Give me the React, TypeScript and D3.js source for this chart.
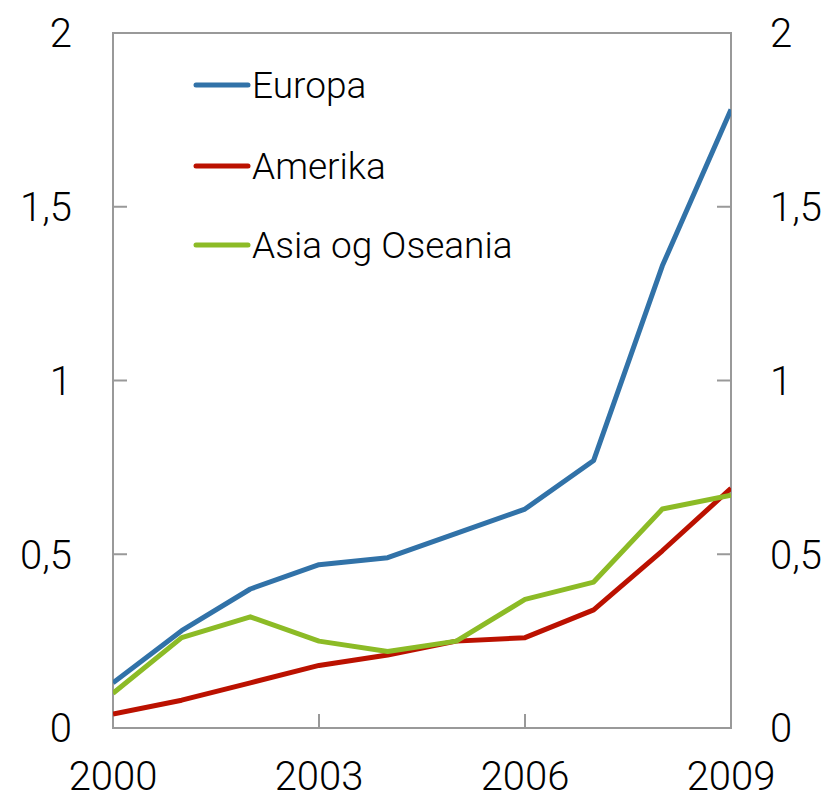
import { useEffect, useRef } from 'react';
import * as d3 from 'd3';

const years = [2000, 2001, 2002, 2003, 2004, 2005, 2006, 2007, 2008, 2009];
const europa = [0.13, 0.28, 0.40, 0.47, 0.49, 0.56, 0.63, 0.77, 1.33, 1.78];
const amerika = [0.04, 0.08, 0.13, 0.18, 0.21, 0.25, 0.26, 0.34, 0.51, 0.69];
const asia = [0.10, 0.26, 0.32, 0.25, 0.22, 0.25, 0.37, 0.42, 0.63, 0.67];
const yTicks = [0, 0.5, 1, 1.5, 2];
const xTicks = [2000, 2003, 2006, 2009];

const series = [
  { name: 'Europa', values: europa, color: '#3172a8' },
  { name: 'Amerika', values: amerika, color: '#bb1100' },
  { name: 'Asia og Oseania', values: asia, color: '#8cbb26' },
];

export default function App() {
  const ref = useRef<SVGSVGElement>(null);

  useEffect(() => {
    const svg = d3.select(ref.current);
    svg.selectAll('*').remove();

    const margin = { top: 33, right: 101, bottom: 73, left: 113 };
    const W = 832, H = 801;
    const width = W - margin.left - margin.right;
    const height = H - margin.top - margin.bottom;
    const font = 'Roboto, "Liberation Sans", Arial, sans-serif';
    const axisColor = '#999999';

    const x = d3.scaleLinear().domain([2000, 2009]).range([0, width]);
    const y = d3.scaleLinear().domain([0, 2]).range([height, 0]);
    const fmt = (v: number) => String(v).replace('.', ',');

    const g = svg.append('g').attr('transform', `translate(${margin.left},${margin.top})`);

    // frame
    g.append('rect')
      .attr('x', 0).attr('y', 0).attr('width', width).attr('height', height)
      .attr('fill', 'none').attr('stroke', axisColor).attr('stroke-width', 2);

    // inner tick marks
    const tickLen = 14;
    yTicks.forEach(t => {
      g.append('line').attr('x1', 0).attr('x2', tickLen).attr('y1', y(t)).attr('y2', y(t))
        .attr('stroke', axisColor).attr('stroke-width', 2);
      g.append('line').attr('x1', width - tickLen).attr('x2', width).attr('y1', y(t)).attr('y2', y(t))
        .attr('stroke', axisColor).attr('stroke-width', 2);
    });
    xTicks.forEach(t => {
      g.append('line').attr('x1', x(t)).attr('x2', x(t)).attr('y1', height).attr('y2', height - tickLen)
        .attr('stroke', axisColor).attr('stroke-width', 2);
    });

    // tick labels
    yTicks.forEach(t => {
      g.append('text').attr('x', -41).attr('y', y(t)).attr('dy', '0.36em')
        .attr('text-anchor', 'end').attr('font-family', font).attr('font-size', 40)
        .attr('font-weight', 300).attr('fill', '#000').text(fmt(t));
      g.append('text').attr('x', width + 39).attr('y', y(t)).attr('dy', '0.36em')
        .attr('text-anchor', 'start').attr('font-family', font).attr('font-size', 40)
        .attr('font-weight', 300).attr('fill', '#000').text(fmt(t));
    });
    xTicks.forEach(t => {
      g.append('text').attr('x', x(t)).attr('y', height + 62)
        .attr('text-anchor', 'middle').attr('font-family', font).attr('font-size', 40)
        .attr('font-weight', 300).attr('fill', '#000').text(String(t));
    });

    // lines
    const line = d3.line<number>()
      .x((_, i) => x(years[i]))
      .y(d => y(d));
    g.append('defs').append('clipPath').attr('id', 'plotclip')
      .append('rect').attr('x', 0).attr('y', 0).attr('width', width).attr('height', height);
    const lines = g.append('g').attr('clip-path', 'url(#plotclip)');
    series.forEach(s => {
      lines.append('path').datum(s.values).attr('d', line)
        .attr('fill', 'none').attr('stroke', s.color).attr('stroke-width', 5)
        .attr('stroke-linejoin', 'round');
    });

    // legend
    const legendY = [52, 133, 212];
    series.forEach((s, i) => {
      g.append('line').attr('x1', 83).attr('x2', 135).attr('y1', legendY[i]).attr('y2', legendY[i])
        .attr('stroke', s.color).attr('stroke-width', 5).attr('stroke-linecap', 'round');
      g.append('text').attr('x', 139).attr('y', legendY[i]).attr('dy', '0.36em')
        .attr('font-family', font).attr('font-size', 37).attr('font-weight', 300)
        .attr('fill', '#000').text(s.name);
    });
  }, []);

  return (
    <svg
      ref={ref}
      width={832}
      height={801}
      style={{ display: 'block', position: 'absolute', left: 0, top: 0, background: '#fff' }}
    />
  );
}
